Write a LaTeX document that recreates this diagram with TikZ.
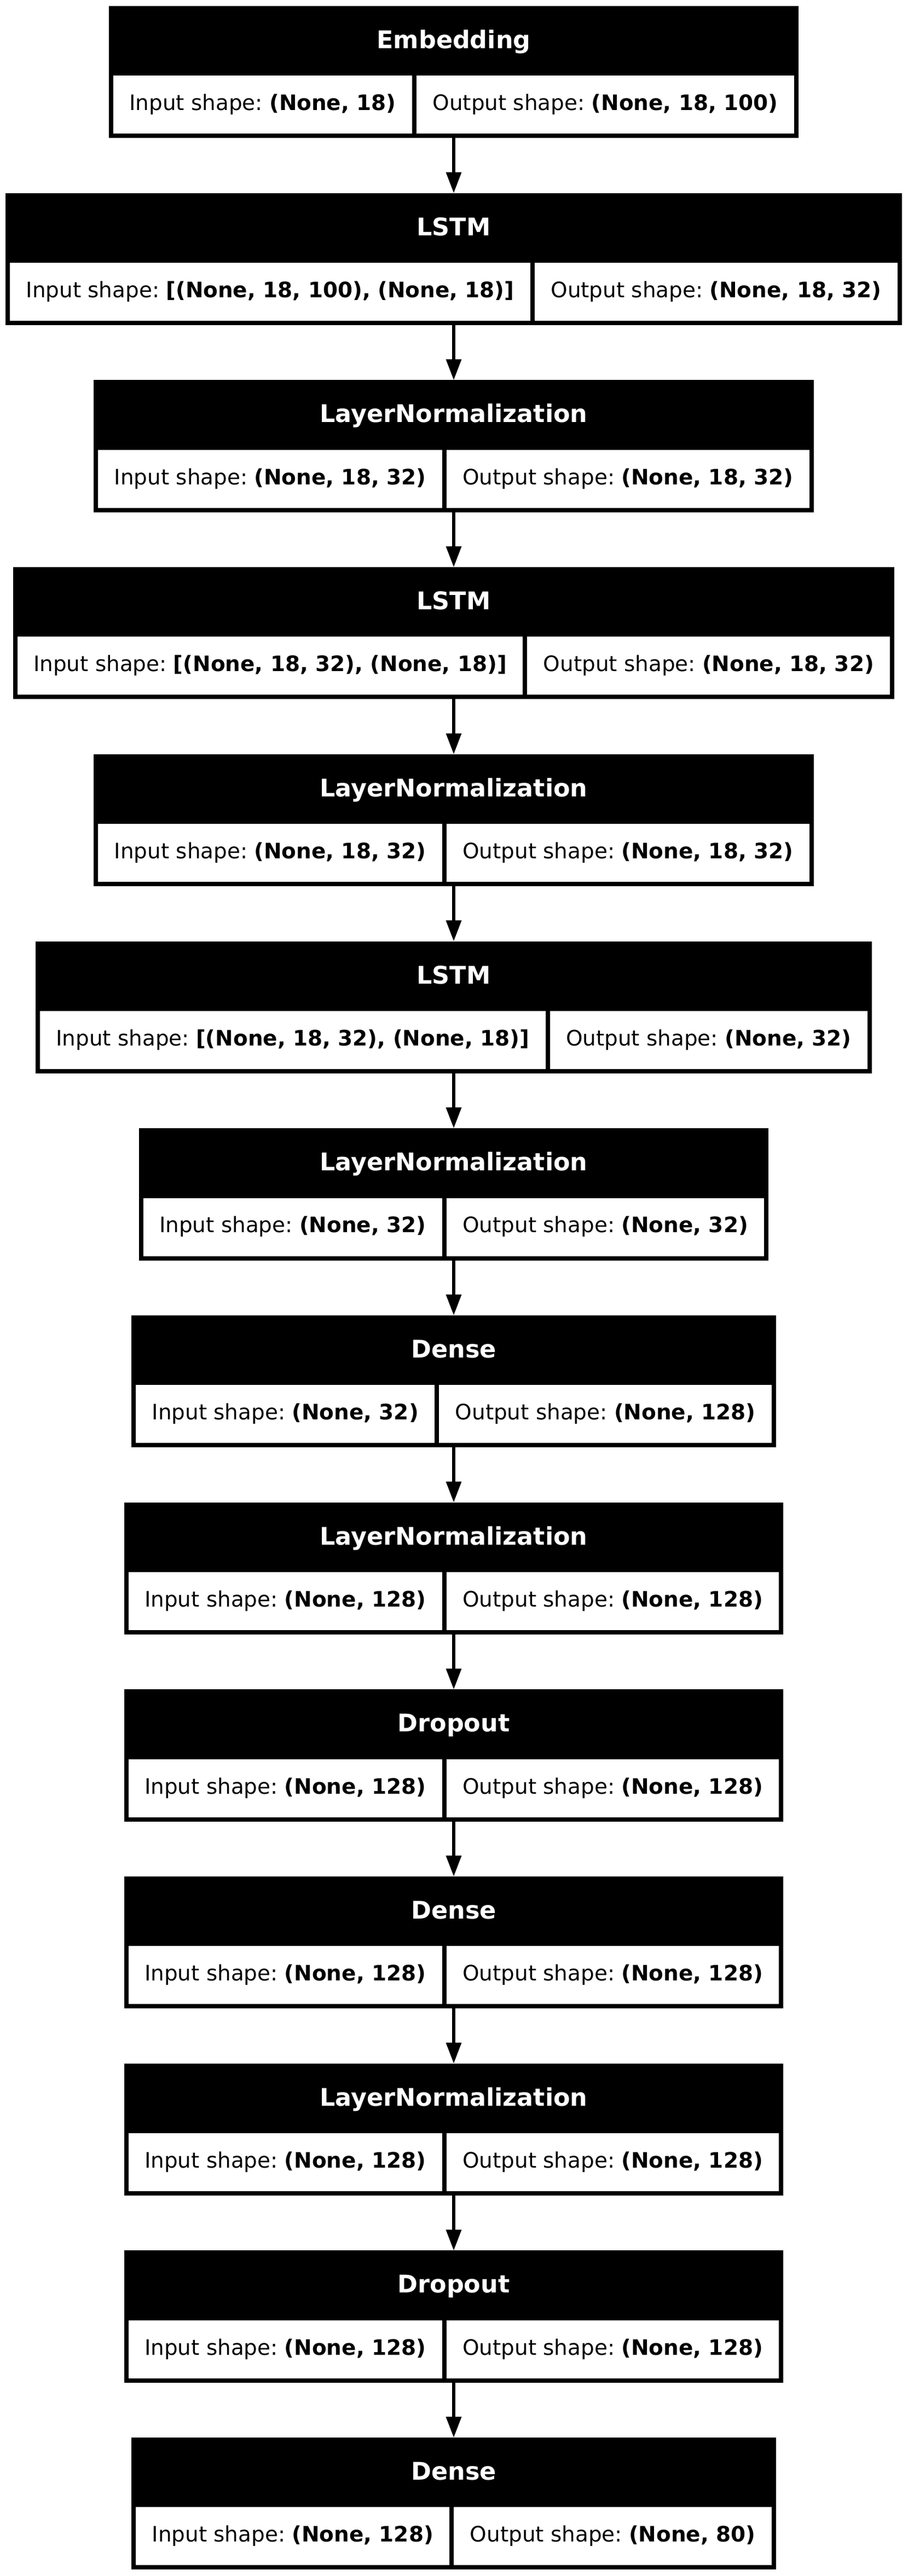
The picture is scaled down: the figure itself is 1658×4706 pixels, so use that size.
\documentclass[tikz,border=0pt]{standalone}
\usepackage{fontspec}
\setmainfont{DejaVu Sans}
\frenchspacing
\usetikzlibrary{arrows.meta,fit,matrix}

\begin{document}
\begin{tikzpicture}[x=0.36pt,y=-0.36pt]
\tikzset{couche/.style={anchor=north, fill=black, inner sep=2.88pt, outer sep=0pt, column sep=2.88pt},
  cellule/.style={fill=white, anchor=center, inner xsep=10.62pt, inner ysep=0pt, outer sep=0pt, minimum height=38.16pt, text height=10.5pt, text depth=3pt, font=\fontsize{14}{17}\selectfont},
  bande/.style={fill=black, inner sep=0pt, outer sep=0pt},
  titre/.style={text=white, inner sep=0pt, text height=12.85pt, text depth=0pt, font=\fontsize{16}{19}\selectfont\bfseries},
  fleche/.style={-{Triangle[length=13.7pt,width=9.8pt]}, line width=2pt}}
\useasboundingbox (0,0) rectangle (1658,4706);
\matrix[couche] (L1) at (829,130.3) {\node[cellule] (I1) {Input shape: \textbf{(None, 18)}}; & \node[cellule] (O1) {Output shape: \textbf{(None, 18, 100)}}; \\};
\node[bande, fit={([yshift=42.95pt]L1.north west) (L1.north east)}, label={[titre]center:Embedding}] (T1) {};
\matrix[couche] (L2) at (829,472) {\node[cellule] (I2) {Input shape: \textbf{[(None, 18, 100), (None, 18)]}}; & \node[cellule] (O2) {Output shape: \textbf{(None, 18, 32)}}; \\};
\node[bande, fit={([yshift=42.95pt]L2.north west) (L2.north east)}, label={[titre]center:LSTM}] (T2) {};
\matrix[couche] (L3) at (829,813.7) {\node[cellule] (I3) {Input shape: \textbf{(None, 18, 32)}}; & \node[cellule] (O3) {Output shape: \textbf{(None, 18, 32)}}; \\};
\node[bande, fit={([yshift=42.95pt]L3.north west) (L3.north east)}, label={[titre]center:LayerNormalization}] (T3) {};
\matrix[couche] (L4) at (829,1155.4) {\node[cellule] (I4) {Input shape: \textbf{[(None, 18, 32), (None, 18)]}}; & \node[cellule] (O4) {Output shape: \textbf{(None, 18, 32)}}; \\};
\node[bande, fit={([yshift=42.95pt]L4.north west) (L4.north east)}, label={[titre]center:LSTM}] (T4) {};
\matrix[couche] (L5) at (829,1497.1) {\node[cellule] (I5) {Input shape: \textbf{(None, 18, 32)}}; & \node[cellule] (O5) {Output shape: \textbf{(None, 18, 32)}}; \\};
\node[bande, fit={([yshift=42.95pt]L5.north west) (L5.north east)}, label={[titre]center:LayerNormalization}] (T5) {};
\matrix[couche] (L6) at (829,1838.8) {\node[cellule] (I6) {Input shape: \textbf{[(None, 18, 32), (None, 18)]}}; & \node[cellule] (O6) {Output shape: \textbf{(None, 32)}}; \\};
\node[bande, fit={([yshift=42.95pt]L6.north west) (L6.north east)}, label={[titre]center:LSTM}] (T6) {};
\matrix[couche] (L7) at (829,2180.5) {\node[cellule] (I7) {Input shape: \textbf{(None, 32)}}; & \node[cellule] (O7) {Output shape: \textbf{(None, 32)}}; \\};
\node[bande, fit={([yshift=42.95pt]L7.north west) (L7.north east)}, label={[titre]center:LayerNormalization}] (T7) {};
\matrix[couche] (L8) at (829,2522.2) {\node[cellule] (I8) {Input shape: \textbf{(None, 32)}}; & \node[cellule] (O8) {Output shape: \textbf{(None, 128)}}; \\};
\node[bande, fit={([yshift=42.95pt]L8.north west) (L8.north east)}, label={[titre]center:Dense}] (T8) {};
\matrix[couche] (L9) at (829,2863.9) {\node[cellule] (I9) {Input shape: \textbf{(None, 128)}}; & \node[cellule] (O9) {Output shape: \textbf{(None, 128)}}; \\};
\node[bande, fit={([yshift=42.95pt]L9.north west) (L9.north east)}, label={[titre]center:LayerNormalization}] (T9) {};
\matrix[couche] (L10) at (829,3205.6) {\node[cellule] (I10) {Input shape: \textbf{(None, 128)}}; & \node[cellule] (O10) {Output shape: \textbf{(None, 128)}}; \\};
\node[bande, fit={([yshift=42.95pt]L10.north west) (L10.north east)}, label={[titre]center:Dropout}] (T10) {};
\matrix[couche] (L11) at (829,3547.3) {\node[cellule] (I11) {Input shape: \textbf{(None, 128)}}; & \node[cellule] (O11) {Output shape: \textbf{(None, 128)}}; \\};
\node[bande, fit={([yshift=42.95pt]L11.north west) (L11.north east)}, label={[titre]center:Dense}] (T11) {};
\matrix[couche] (L12) at (829,3889) {\node[cellule] (I12) {Input shape: \textbf{(None, 128)}}; & \node[cellule] (O12) {Output shape: \textbf{(None, 128)}}; \\};
\node[bande, fit={([yshift=42.95pt]L12.north west) (L12.north east)}, label={[titre]center:LayerNormalization}] (T12) {};
\matrix[couche] (L13) at (829,4230.7) {\node[cellule] (I13) {Input shape: \textbf{(None, 128)}}; & \node[cellule] (O13) {Output shape: \textbf{(None, 128)}}; \\};
\node[bande, fit={([yshift=42.95pt]L13.north west) (L13.north east)}, label={[titre]center:Dropout}] (T13) {};
\matrix[couche] (L14) at (829,4572.4) {\node[cellule] (I14) {Input shape: \textbf{(None, 128)}}; & \node[cellule] (O14) {Output shape: \textbf{(None, 80)}}; \\};
\node[bande, fit={([yshift=42.95pt]L14.north west) (L14.north east)}, label={[titre]center:Dense}] (T14) {};
\draw[fleche] (L1.south) -- (T2.north);
\draw[fleche] (L2.south) -- (T3.north);
\draw[fleche] (L3.south) -- (T4.north);
\draw[fleche] (L4.south) -- (T5.north);
\draw[fleche] (L5.south) -- (T6.north);
\draw[fleche] (L6.south) -- (T7.north);
\draw[fleche] (L7.south) -- (T8.north);
\draw[fleche] (L8.south) -- (T9.north);
\draw[fleche] (L9.south) -- (T10.north);
\draw[fleche] (L10.south) -- (T11.north);
\draw[fleche] (L11.south) -- (T12.north);
\draw[fleche] (L12.south) -- (T13.north);
\draw[fleche] (L13.south) -- (T14.north);
\end{tikzpicture}
\end{document}
